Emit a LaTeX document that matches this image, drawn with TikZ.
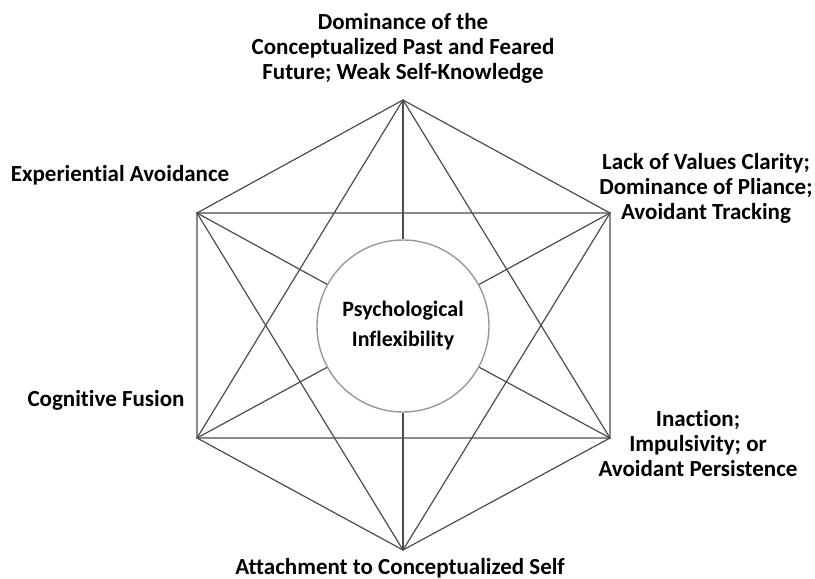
\documentclass[tikz,border=0pt]{standalone}
\usepackage{fontspec}
\setmainfont{Carlito}[RawFeature={-liga}]
\usepackage{tikz}
\usetikzlibrary{positioning}

\begin{document}
\begin{tikzpicture}[
    x=1pt, y=-1pt,
    font=\bfseries\fontsize{23}{25}\selectfont,
    edge/.style={draw=black!70, line width=1.2pt},
    process/.style={align=center, text=black, inner sep=0pt},
    core/.style={circle, draw=black!40, line width=1.4pt, minimum size=172pt, align=center, font=\bfseries\fontsize{22}{30}\selectfont}
]
    \useasboundingbox (0,0) rectangle (815,579);

    % hexagon corners
    \coordinate (TOP) at (403,100);
    \coordinate (UR) at (610,213);
    \coordinate (LR) at (610,438);
    \coordinate (BOT) at (403,550);
    \coordinate (LL) at (197,438);
    \coordinate (UL) at (197,213);

    \node[core] (PI) at (403,326) {Psychological\\Inflexibility};

    \draw[edge] (TOP) -- (UR) -- (LR) -- (BOT) -- (LL) -- (UL) -- cycle;
    \draw[edge] (TOP) -- (LR) -- (LL) -- cycle;
    \draw[edge] (UR) -- (BOT) -- (UL) -- cycle;
    \foreach \v in {TOP,UR,LR,BOT,LL,UL}
        \draw[edge] (\v) -- (PI);

    % processes
    \node[process] (PAST) at (403,48) {Dominance of the\\Conceptualized Past and Feared\\Future; Weak Self-Knowledge};
    \node[process] (AVOID) at (120,175) {Experiential Avoidance};
    \node[process] (VALUES) at (706,188) {Lack of Values Clarity;\\Dominance of Pliance;\\Avoidant Tracking};
    \node[process] (FUSION) at (106,400) {Cognitive Fusion};
    \node[process] (ACTION) at (698,444) {Inaction;\\Impulsivity; or\\Avoidant Persistence};
    \node[process] (SELF) at (400,568) {Attachment to Conceptualized Self};
\end{tikzpicture}
\end{document}
